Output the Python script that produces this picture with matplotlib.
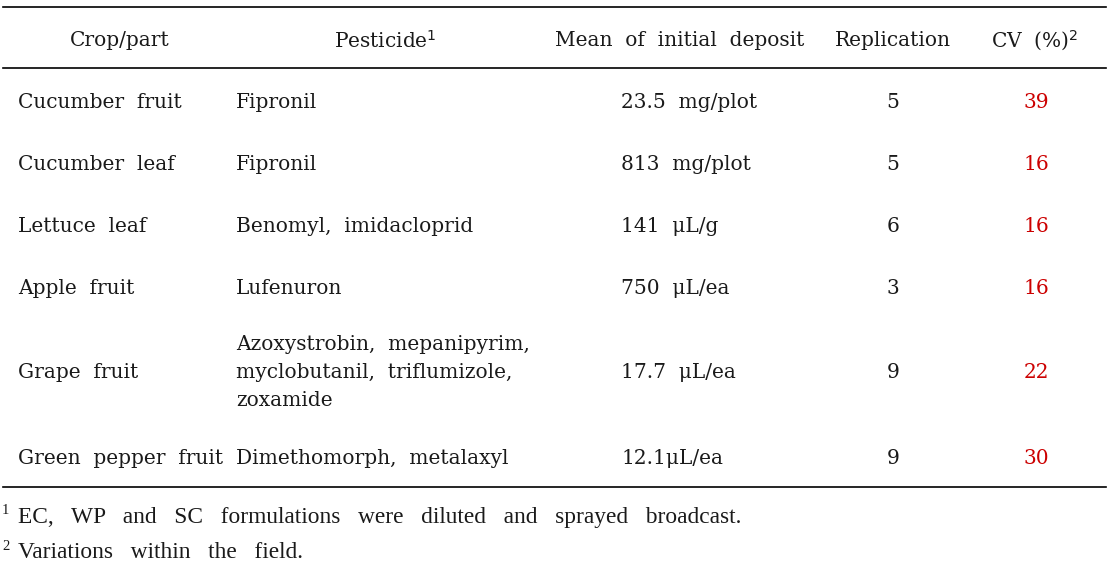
import matplotlib
matplotlib.use("Agg")
import matplotlib.pyplot as plt

W, H = 1113, 565
headers = ["Crop/part", "Pesticide$^{1}$", "Mean  of  initial  deposit", "Replication", "CV  (%)$^{2}$"]
crops = ["Cucumber  fruit", "Cucumber  leaf", "Lettuce  leaf", "Apple  fruit", "Grape  fruit", "Green  pepper  fruit"]
pesticides = ["Fipronil", "Fipronil", "Benomyl,  imidacloprid", "Lufenuron",
              "Azoxystrobin,  mepanipyrim,\nmyclobutanil,  triflumizole,\nzoxamide",
              "Dimethomorph,  metalaxyl"]
deposits = ["23.5  mg/plot", "813  mg/plot", "141  \u03bcL/g", "750  \u03bcL/ea", "17.7  \u03bcL/ea", "12.1\u03bcL/ea"]
replications = [5, 5, 6, 3, 9, 9]
cv = [39, 16, 16, 16, 22, 30]
footnotes = ["EC,   WP   and   SC   formulations   were   diluted   and   sprayed   broadcast.",
             "Variations   within   the   field."]

row_y = [101, 163, 225, 287, 372, 457]

fig = plt.figure(figsize=(W / 100, H / 100), dpi=100)
ax = fig.add_axes([0, 0, 1, 1])
ax.set_xlim(0, W)
ax.set_ylim(H, 0)
ax.axis("off")

FS = 14.5
main = dict(family="DejaVu Serif", fontsize=FS, color="#1a1a1a", va="center")

for y in (7, 68, 487):
    ax.plot([3, 1106], [y, y], color="black", lw=1.2)

hx = [120, 385, 680, 893, 1035]
for x, t in zip(hx, headers):
    ax.text(x, 41, t, ha="center", **main)

for i, y in enumerate(row_y):
    ax.text(18, y + 1, crops[i], ha="left", **main)
    ax.text(236, y + 1, pesticides[i], ha="left", linespacing=1.6, **main)
    ax.text(621, y + 1, deposits[i], ha="left", **main)
    ax.text(893, y + 1, str(replications[i]), ha="center", **main)
    ax.text(1036, y + 1, str(cv[i]), ha="center", family="DejaVu Serif", fontsize=FS,
            color="#cc0000", va="center")

foot = dict(family="Liberation Serif", fontsize=16.8, color="#1a1a1a", va="center")
for k, (y, t) in enumerate(zip((517, 553), footnotes)):
    ax.text(2, y - 7, str(k + 1), ha="left", family="Liberation Serif", fontsize=10.5,
            color="#1a1a1a", va="center")
    ax.text(18, y, t, ha="left", **foot)

fig.savefig("out.png", dpi=100)
